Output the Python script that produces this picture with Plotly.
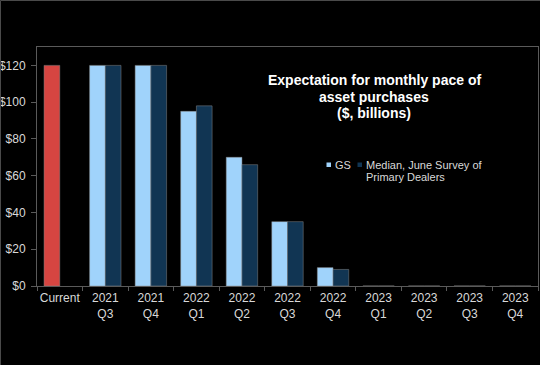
import plotly.graph_objects as go

categories = ["Current", "2021<br>Q3", "2021<br>Q4", "2022<br>Q1", "2022<br>Q2", "2022<br>Q3",
              "2022<br>Q4", "2023<br>Q1", "2023<br>Q2", "2023<br>Q3", "2023<br>Q4"]
gs_values = [120, 120, 120, 95, 70, 35, 10, 0, 0, 0, 0]
median_values = [None, 120, 120, 98, 66, 35, 9, 0, 0, 0, 0]
title_lines = ["Expectation for monthly pace of", "asset purchases", "($, billions)"]
legend_names = ["GS", "Median, June Survey of", "Primary Dealers"]

RED = "#d64541"
LIGHT = "#a0d3fb"
DARK = "#113553"
TXT = "#d9d9d9"
GRID = "#5a5a5a"
FONT = "Liberation Sans, Arial, sans-serif"

W, H = 540, 365
L, R, T, B = 37, 2, 47, 79
pw, ph = W - L - R, H - T - B

def px_x(x):
    return (x - L) / pw

def px_y(y):
    return (H - B - y) / ph

gs_colors = [RED] + [LIGHT] * (len(categories) - 1)

fig = go.Figure()
fig.add_trace(go.Bar(x=categories, y=gs_values, name="GS", marker=dict(color=gs_colors,
                     line=dict(color="rgba(140,140,140,0.6)", width=0.8)), showlegend=False))
fig.add_trace(go.Bar(x=categories, y=median_values, name="Median, June Survey of Primary Dealers",
                     marker=dict(color=DARK, line=dict(color="rgba(140,140,140,0.6)", width=0.8)),
                     showlegend=False))

annotations = []
for txt, yy in zip(title_lines, [80, 96.5, 113]):
    annotations.append(dict(x=px_x(374), y=px_y(yy), xref="paper", yref="paper", text="<b>%s</b>" % txt,
                            showarrow=False, xanchor="center", yanchor="middle",
                            font=dict(family=FONT, size=14, color="#ffffff")))
annotations.append(dict(x=px_x(333), y=px_y(164.5), xref="paper", yref="paper", text=legend_names[0],
                        showarrow=False, xanchor="left", yanchor="middle",
                        font=dict(family=FONT, size=11, color=TXT)))
annotations.append(dict(x=px_x(364), y=px_y(164.5), xref="paper", yref="paper", text=legend_names[1],
                        showarrow=False, xanchor="left", yanchor="middle",
                        font=dict(family=FONT, size=11, color=TXT)))
annotations.append(dict(x=px_x(364), y=px_y(177), xref="paper", yref="paper", text=legend_names[2],
                        showarrow=False, xanchor="left", yanchor="middle",
                        font=dict(family=FONT, size=11, color=TXT)))

shapes = [
    dict(type="rect", xref="paper", yref="paper", x0=px_x(326.5), x1=px_x(331), y0=px_y(167), y1=px_y(162.5),
         fillcolor=LIGHT, line=dict(width=0)),
    dict(type="rect", xref="paper", yref="paper", x0=px_x(357.5), x1=px_x(362), y0=px_y(167), y1=px_y(162.5),
         fillcolor=DARK, line=dict(width=0)),
    dict(type="line", xref="paper", yref="paper", x0=px_x(0.5), x1=px_x(540), y0=px_y(0.5), y1=px_y(0.5),
         line=dict(color="#4a4a4a", width=1)),
    dict(type="line", xref="paper", yref="paper", x0=px_x(0.5), x1=px_x(0.5), y0=px_y(0.5), y1=px_y(365),
         line=dict(color="#4a4a4a", width=1)),
]

fig.update_layout(
    width=W, height=H,
    margin=dict(l=L, r=R, t=T, b=B, pad=0),
    paper_bgcolor="#000000", plot_bgcolor="#000000",
    barmode="group", bargap=0.31, bargroupgap=0,
    font=dict(family=FONT, size=12, color=TXT),
    annotations=annotations, shapes=shapes,
    showlegend=False,
)
fig.update_xaxes(showgrid=False, showline=True, linecolor=GRID, linewidth=1, mirror=True,
                 ticks="outside", tickson="boundaries", ticklen=4, tickcolor=GRID, automargin=False,
                 ticklabelstandoff=1,
                 tickfont=dict(family=FONT, size=12, color=TXT), tickangle=0)
fig.update_yaxes(range=[0, 130], dtick=20, tickprefix="$", showgrid=False, zeroline=False,
                 showline=True, linecolor=GRID, linewidth=1, mirror=True, automargin=False,
                 ticks="outside", ticklen=5, tickcolor=GRID, ticklabelstandoff=3,
                 tickfont=dict(family=FONT, size=12, color=TXT))

fig.write_html("out.html", config={"displayModeBar": False},
               post_script="document.body.style.margin='0';document.body.style.padding='0';"
                           "document.body.style.background='#000';")
